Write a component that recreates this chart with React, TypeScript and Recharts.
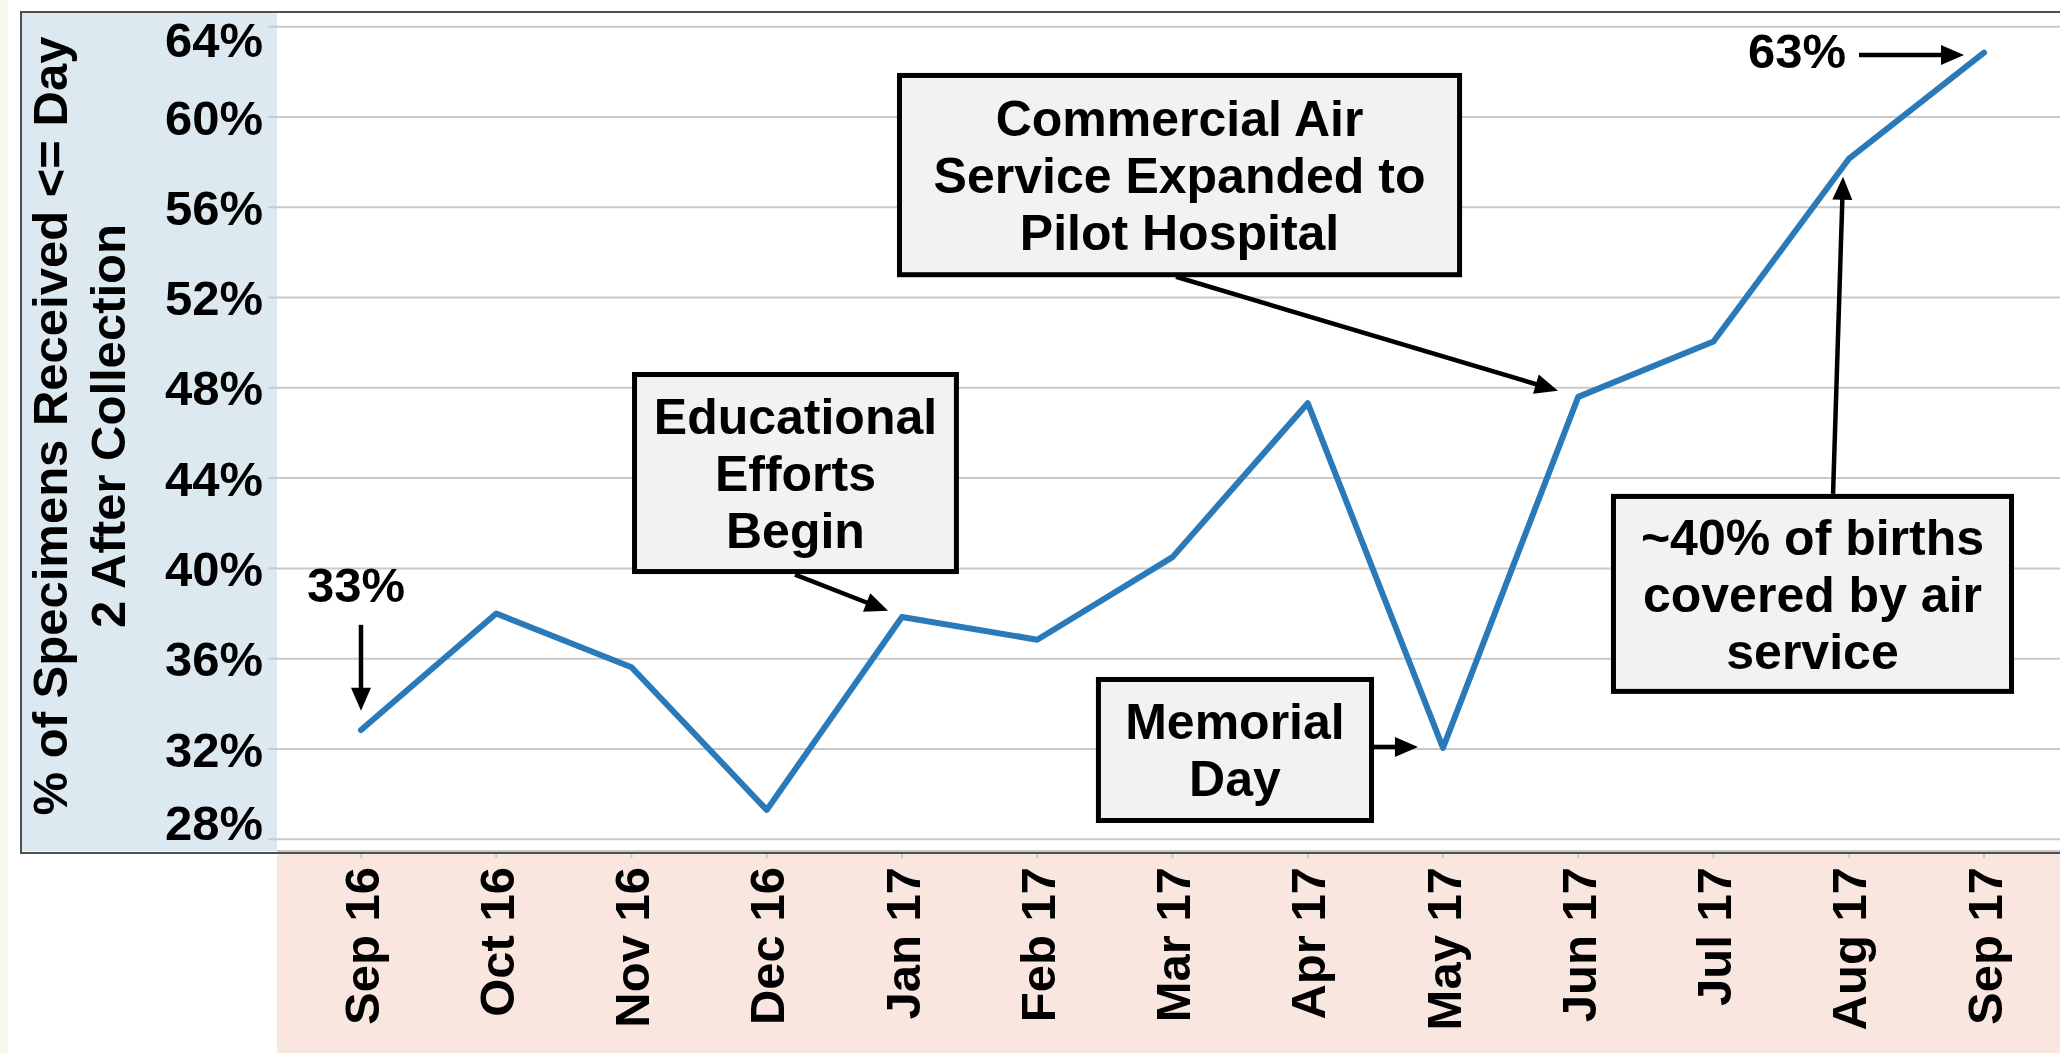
import React from 'react';
import {
  LineChart,
  Line,
  XAxis,
  YAxis,
  CartesianGrid,
  ReferenceArea,
  ReferenceLine,
  ReferenceDot,
} from 'recharts';

// ---------- data ----------
const MONTHS = [
  'Sep 16', 'Oct 16', 'Nov 16', 'Dec 16', 'Jan 17', 'Feb 17', 'Mar 17',
  'Apr 17', 'May 17', 'Jun 17', 'Jul 17', 'Aug 17', 'Sep 17',
];
const VALUES = [32.84, 38.0, 35.62, 29.3, 37.85, 36.84, 40.5, 47.32, 32.05, 47.6, 50.05, 58.14, 62.85];
const Y_TICKS = [28, 32, 36, 40, 44, 48, 52, 56, 60, 64];
const X_TICKS = MONTHS.map((_, i) => i);
const Y_LABEL_LINES = ['% of Specimens Received <= Day', '2 After Collection'];

// annotations (in data units)
const BOXES = [
  { lines: ['Commercial Air', 'Service Expanded to', 'Pilot Hospital'], x1: 3.963, x2: 8.141, y1: 52.9, y2: 61.95 },
  { lines: ['Educational', 'Efforts', 'Begin'], x1: 2.004, x2: 4.421, y1: 39.75, y2: 48.7 },
  { lines: ['Memorial', 'Day'], x1: 5.434, x2: 7.49, y1: 28.72, y2: 35.19 },
  { lines: ['~40% of births', 'covered by air', 'service'], x1: 9.242, x2: 12.222, y1: 34.44, y2: 43.3 },
];
const ARROWS = [
  { x1: 0, y1: 37.5, x2: 0, y2: 33.69 },
  { x1: 3.209, y1: 39.72, x2: 3.897, y2: 38.12 },
  { x1: 6.026, y1: 52.92, x2: 8.85, y2: 47.87 },
  { x1: 7.49, y1: 32.09, x2: 7.815, y2: 32.09 },
  { x1: 10.884, y1: 43.3, x2: 10.958, y2: 57.35 },
  { x1: 11.076, y1: 62.75, x2: 11.852, y2: 62.75 },
];
const TEXT_LABELS = [
  { text: '33%', x: -0.037, y: 38.52 },
  { text: '63%', x: 10.617, y: 62.17 },
];

const chartData = MONTHS.map((m, i) => ({ idx: i, month: m, value: VALUES[i] }));

// ---------- styles ----------
const FONT = "'Liberation Sans', Arial, sans-serif";
const FS = 49;
const BOX_FS = 50;
const LINE_COLOR = '#2a7ab9';
const GRID = '#c9c9c9';

const W = 2060;
const H = 1053;
const CHART_LEFT = 21;
const CHART_TOP = 12;
const Y_AXIS_W = 256;
const X_AXIS_H = 202;

const YTick = (p: any) => {
  const { x, y, payload } = p;
  const cy = Math.min(Math.max(y, 39), 822);
  return (
    <text x={x} y={cy} dy="0.36em" textAnchor="end" fontFamily={FONT} fontSize={FS} fontWeight={700} fill="#000">
      {payload.value}%
    </text>
  );
};

const XTick = (p: any) => {
  const { x, y, payload } = p;
  return (
    <text
      transform={`translate(${x},${y}) rotate(-90)`}
      dy="0.36em"
      textAnchor="end"
      fontFamily={FONT}
      fontSize={FS}
      fontWeight={700}
      fill="#000"
    >
      {MONTHS[payload.value]}
    </text>
  );
};

const YLabel = (p: any) => {
  const vb = p && p.viewBox ? p.viewBox : { x: CHART_LEFT, y: CHART_TOP };
  const cy = vb.y + 414;
  const xs = [vb.x + 46, vb.x + 104];
  return (
    <g>
      {Y_LABEL_LINES.map((l, i) => (
        <text
          key={i}
          transform={`translate(${xs[i]},${cy}) rotate(-90)`}
          textAnchor="middle"
          fontFamily={FONT}
          fontSize={FS}
          fontWeight={700}
          fill="#000"
        >
          {l}
        </text>
      ))}
    </g>
  );
};

const makeBox = (lines: string[]) => (p: any) => {
  const { x, y, width, height } = p;
  const cx = x + width / 2;
  const cy = y + height / 2;
  const lh = 57;
  const first = cy - ((lines.length - 1) * lh) / 2 + 18;
  return (
    <g>
      <rect x={x + 2.5} y={y + 2.5} width={width - 5} height={height - 5} fill="#f2f2f2" stroke="#000" strokeWidth={5} />
      <text textAnchor="middle" fontFamily={FONT} fontSize={BOX_FS} fontWeight={700} fill="#000">
        {lines.map((l, i) => (
          <tspan key={i} x={cx} y={first + i * lh}>
            {l}
          </tspan>
        ))}
      </text>
    </g>
  );
};

const ArrowShape = (p: any) => {
  const { x1, y1, x2, y2 } = p;
  const dx = x2 - x1;
  const dy = y2 - y1;
  const len = Math.hypot(dx, dy) || 1;
  const ux = dx / len;
  const uy = dy / len;
  const head = 23;
  const hw = 10;
  const bx = x2 - ux * head;
  const by = y2 - uy * head;
  const px = -uy;
  const py = ux;
  return (
    <g>
      <line x1={x1} y1={y1} x2={bx + ux * 2} y2={by + uy * 2} stroke="#000" strokeWidth={4.5} />
      <polygon
        points={`${x2},${y2} ${bx + px * hw},${by + py * hw} ${bx - px * hw},${by - py * hw}`}
        fill="#000"
      />
    </g>
  );
};

const makeText = (text: string) => (p: any) => (
  <text x={p.cx} y={p.cy} textAnchor="middle" fontFamily={FONT} fontSize={FS} fontWeight={700} fill="#000">
    {text}
  </text>
);

export default function App() {
  return (
    <div style={{ position: 'absolute', left: 0, top: 0, width: W, height: H, background: '#fff', overflow: 'hidden' }}>
      <div style={{ position: 'absolute', left: 0, top: 0, width: 8, height: H, background: '#f9f6ef' }} />
      <div
        style={{
          position: 'absolute',
          left: CHART_LEFT,
          top: CHART_TOP,
          width: Y_AXIS_W,
          height: H - X_AXIS_H - CHART_TOP,
          background: '#dde9f0',
        }}
      />
      <div
        style={{
          position: 'absolute',
          left: CHART_LEFT + Y_AXIS_W,
          top: H - X_AXIS_H,
          width: W - CHART_LEFT - Y_AXIS_W,
          height: X_AXIS_H,
          background: '#f9e7df',
        }}
      />
      <div style={{ position: 'absolute', left: 0, top: 0 }}>
        <LineChart
          width={W}
          height={H}
          data={chartData}
          margin={{ top: CHART_TOP, right: 0, bottom: 0, left: CHART_LEFT }}
        >
          <CartesianGrid horizontal vertical={false} stroke={GRID} strokeWidth={2} />
          <XAxis
            type="number"
            dataKey="idx"
            domain={[-0.621, 12.562]}
            allowDataOverflow
            ticks={X_TICKS}
            interval={0}
            height={X_AXIS_H}
            axisLine={false}
            tickLine={{ stroke: GRID, strokeWidth: 2 }}
            tickSize={7}
            tickMargin={9}
            tick={<XTick />}
          />
          <YAxis
            type="number"
            domain={[27.48, 64.65]}
            allowDataOverflow
            ticks={Y_TICKS}
            interval={0}
            width={Y_AXIS_W}
            axisLine={false}
            tickLine={{ stroke: GRID, strokeWidth: 2 }}
            tickSize={9}
            tickMargin={5}
            tick={<YTick />}
            label={<YLabel />}
          />
          {BOXES.map((b, i) => (
            <ReferenceArea
              key={`box-${i}`}
              x1={b.x1}
              x2={b.x2}
              y1={b.y1}
              y2={b.y2}
              ifOverflow="visible"
              shape={makeBox(b.lines)}
            />
          ))}
          <Line
            type="linear"
            dataKey="value"
            stroke={LINE_COLOR}
            strokeWidth={6}
            dot={false}
            activeDot={false}
            strokeLinejoin="round"
            strokeLinecap="round"
            isAnimationActive={false}
          />
          {ARROWS.map((a, i) => (
            <ReferenceLine
              key={`arrow-${i}`}
              segment={[
                { x: a.x1, y: a.y1 },
                { x: a.x2, y: a.y2 },
              ]}
              ifOverflow="visible"
              shape={ArrowShape}
            />
          ))}
          {TEXT_LABELS.map((t, i) => (
            <ReferenceDot
              key={`txt-${i}`}
              x={t.x}
              y={t.y}
              r={1}
              ifOverflow="visible"
              shape={makeText(t.text)}
            />
          ))}
        </LineChart>
      </div>
      <div
        style={{
          position: 'absolute',
          left: CHART_LEFT - 1,
          top: CHART_TOP - 1,
          width: W,
          height: H - X_AXIS_H - CHART_TOP,
          borderTop: '2px solid #4f4f4f',
          borderLeft: '2px solid #4f4f4f',
          borderBottom: '2px solid #4f4f4f',
          pointerEvents: 'none',
        }}
      />
    </div>
  );
}
